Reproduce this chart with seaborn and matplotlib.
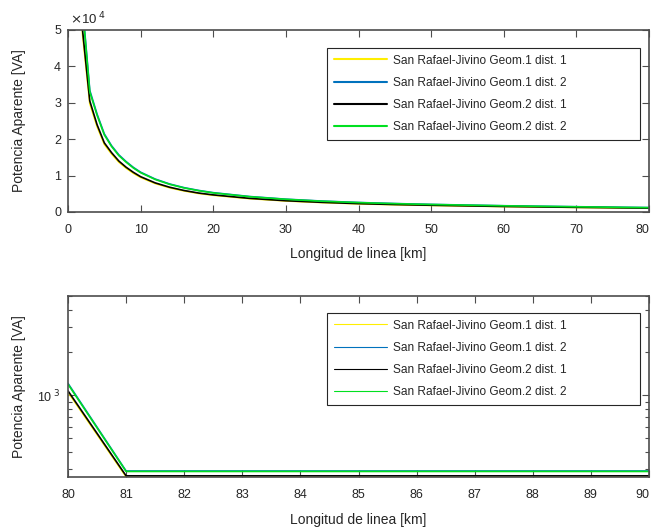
import numpy as np
import pandas as pd
import matplotlib
matplotlib.use("Agg")
import matplotlib.pyplot as plt
from matplotlib.ticker import FuncFormatter, LogLocator, NullFormatter, FixedLocator
import seaborn as sns

sns.set_theme(style="white")
plt.rcParams['font.family'] = ['Liberation Sans', 'DejaVu Sans']

# Series names and colours (MATLAB style)
series_names = ["San Rafael-Jivino Geom.1 dist. 1",
                "San Rafael-Jivino Geom.1 dist. 2",
                "San Rafael-Jivino Geom.2 dist. 1",
                "San Rafael-Jivino Geom.2 dist. 2"]
series_colors = ["#FFEE00", "#0072BD", "#000000", "#00E020"]

# Top panel: length (km) vs apparent power (VA)
length_top = [1, 2, 3, 4, 5, 6, 7, 8, 9, 10, 12, 14, 16, 18, 20, 25, 30, 35, 40, 45, 50, 60, 70, 80]
geom1_dist1 = [107500, 48900, 29800, 23500, 18600, 15950, 13700, 12050, 10650, 9500, 7830, 6650,
               5780, 5090, 4600, 3670, 3030, 2590, 2250, 2000, 1810, 1490, 1250, 1050]
geom1_dist2 = [123500, 56600, 33400, 26900, 21450, 18200, 15700, 13850, 12250, 10930, 9050, 7690,
               6680, 5920, 5310, 4250, 3520, 3000, 2610, 2320, 2085, 1720, 1450, 1210]
geom2_dist1 = [110000, 50000, 30500, 24000, 19000, 16300, 14000, 12300, 10900, 9700, 8000, 6800,
               5900, 5200, 4700, 3750, 3100, 2650, 2300, 2050, 1850, 1520, 1280, 1072]
geom2_dist2 = [122000, 56000, 33000, 26600, 21200, 18000, 15500, 13700, 12100, 10800, 8950, 7600,
               6600, 5850, 5250, 4200, 3480, 2960, 2580, 2290, 2060, 1700, 1430, 1195]

# Bottom panel: 80-90 km, log scale
length_bot = [80, 81, 82, 83, 84, 85, 86, 87, 88, 89, 90]
bot_geom1_dist1 = [1050, 266, 266, 266, 266, 266, 266, 266, 266, 266, 266]
bot_geom1_dist2 = [1210, 292, 292, 292, 292, 292, 292, 292, 292, 292, 292]
bot_geom2_dist1 = [1072, 270, 270, 270, 270, 270, 270, 270, 270, 270, 270]
bot_geom2_dist2 = [1195, 290, 290, 290, 290, 290, 290, 290, 290, 290, 290]

top_df = pd.DataFrame({"L": length_top,
                       series_names[0]: geom1_dist1, series_names[1]: geom1_dist2,
                       series_names[2]: geom2_dist1, series_names[3]: geom2_dist2})
bot_df = pd.DataFrame({"L": length_bot,
                       series_names[0]: bot_geom1_dist1, series_names[1]: bot_geom1_dist2,
                       series_names[2]: bot_geom2_dist1, series_names[3]: bot_geom2_dist2})

fig = plt.figure(figsize=(6.51, 5.31), dpi=100)
ax1 = fig.add_axes([68 / 651, 1 - 212 / 531, 581 / 651, 182 / 531])
ax2 = fig.add_axes([68 / 651, 1 - 477 / 531, 581 / 651, 181 / 531])

spine_col = "#4d4d4d"
text_col = "#262626"


def style_axes(ax):
    for s in ax.spines.values():
        s.set_color(spine_col)
        s.set_linewidth(1.2)
        s.set_visible(True)
    ax.tick_params(which="both", direction="in", top=True, right=True, bottom=True, left=True,
                   colors=spine_col, labelcolor=text_col, labelsize=9)
    ax.tick_params(axis="x", which="major", pad=8.5)
    ax.tick_params(axis="y", which="major", pad=5)
    ax.tick_params(which="major", length=5, width=0.8)
    ax.tick_params(which="minor", length=3, width=0.8)


def draw(ax, df, handle_lw, top_frac):
    long_df = df.melt(id_vars="L", var_name="serie", value_name="S")
    sns.lineplot(data=long_df, x="L", y="S", hue="serie", hue_order=series_names,
                 palette=series_colors, linewidth=1.2, ax=ax, legend=True)
    leg = ax.legend(loc="upper left", bbox_to_anchor=((327 - 68) / 581, 0.0, (640 - 327) / 581, top_frac),
                    mode="expand", borderaxespad=0, fontsize=8.6, frameon=True, fancybox=False,
                    edgecolor=text_col, framealpha=1, handlelength=4.5,
                    labelspacing=0.85, borderpad=0.55, handletextpad=0.45)
    leg.get_frame().set_linewidth(0.8)
    for h in leg.get_lines():
        h.set_linewidth(handle_lw)
    ax.set_ylabel("Potencia Aparente [VA]", fontsize=10, color=text_col)
    ax.set_xlabel("Longitud de linea [km]", fontsize=10, color=text_col)


# top
draw(ax1, top_df, 1.5, (212 - 48) / 182)
style_axes(ax1)
ax1.set_xlim(0, 80)
ax1.set_ylim(0, 50000)
ax1.set_xticks(range(0, 81, 10))
ax1.set_yticks(range(0, 50001, 10000))
ax1.yaxis.set_major_formatter(FuncFormatter(lambda v, p: f"{v / 1e4:g}"))
ax1.text(0.003, 1.015, r"$\times$10$^{\ 4}$", transform=ax1.transAxes, fontsize=9.5,
         color=text_col, va="bottom", ha="left")
ax1.xaxis.set_label_coords(0.5, -0.19)
ax1.yaxis.set_label_coords(-0.073, 0.5)

# bottom
draw(ax2, bot_df, 0.8, (477 - 313) / 181)
ax2.set_yscale("log")
style_axes(ax2)
ax2.set_xlim(80, 90)
ax2.set_ylim(265, 5000)
ax2.set_xticks(range(80, 91))
ax2.yaxis.set_major_locator(FixedLocator([1000]))
ax2.yaxis.set_major_formatter(FuncFormatter(lambda v, p: r"10$^{\ 3}$"))
ax2.yaxis.set_minor_locator(LogLocator(base=10, subs=np.arange(2, 10)))
ax2.yaxis.set_minor_formatter(NullFormatter())
ax2.xaxis.set_label_coords(0.5, -0.2)
ax2.yaxis.set_label_coords(-0.073, 0.5)

# keep the last x tick label inside the figure
for ax in (ax1, ax2):
    fig.canvas.draw()
    ax.get_xticklabels()[-1].set_horizontalalignment("right")

fig.savefig("out.png", dpi=100)
